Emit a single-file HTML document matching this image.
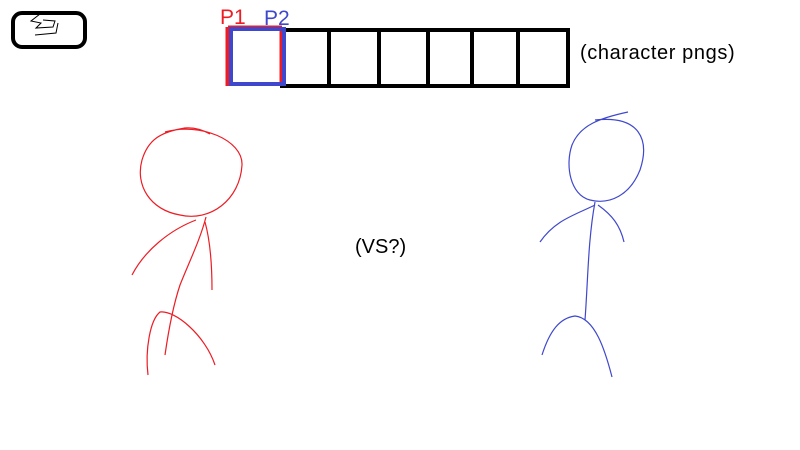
<!DOCTYPE html>
<html><head><meta charset="utf-8"><style>
html,body{margin:0;padding:0;background:#fff;width:800px;height:450px;overflow:hidden}
svg{display:block}
text{font-family:"Liberation Sans",sans-serif}
</style></head><body>
<svg width="800" height="450" viewBox="0 0 800 450">
<g>
<rect x="13" y="13" width="72" height="34" rx="9" fill="none" stroke="#000" stroke-width="4"/>
<path d="M40 14 L31 21 L41 23 L36 28 L53 27 L55 21 L43 20 M35 35 L56 33 L58 23" fill="none" stroke="#000" stroke-width="1"/>
</g>
<g>
<path d="M282 30 H568 V86 H282 Z" fill="none" stroke="#000" stroke-width="4"/>
<path d="M329 30V88 M379 30V88 M428 30V88 M472 30V88 M518 30V88" stroke="#000" stroke-width="4"/>
<path d="M228 27 V86 M282 27 V86 M228 28 H282" fill="none" stroke="#ed1c24" stroke-width="5"/>
<rect x="231" y="29" width="53" height="55" fill="none" stroke="#3f48cc" stroke-width="4"/>
</g>
<text x="220" y="24" font-size="21" fill="#ed1c24">P1</text>
<text x="264" y="25" font-size="21" fill="#3f48cc">P2</text>
<text x="580" y="59" font-size="20" letter-spacing="0.6" fill="#000">(character pngs)</text>
<text x="355" y="253" font-size="20" fill="#000">(VS?)</text>
<g fill="none" stroke="#ed1c24" stroke-width="1.2">
<path d="M165 132 C200 122 243 140 242 165 C240 200 210 222 180 215 C150 210 135 185 142 160 C148 140 160 132 185 128 C195 127 205 131 210 134"/>
<path d="M206 217 C200 240 190 260 180 285 C175 300 170 320 165 355"/>
<path d="M196 220 C170 230 145 250 132 275"/>
<path d="M205 222 C210 240 212 265 212 290"/>
<path d="M148 375 C145 350 150 320 160 312 C175 310 205 335 215 365"/>
</g>
<g fill="none" stroke="#3f48cc" stroke-width="1.2">
<path d="M595 120 C640 115 650 140 640 170 C630 195 610 205 590 200 C570 195 565 165 572 145 C580 125 600 118 628 112"/>
<path d="M595 202 C588 240 588 280 585 320"/>
<path d="M595 205 C575 215 555 220 540 242"/>
<path d="M598 205 C612 215 620 225 624 242"/>
<path d="M542 355 C550 330 560 318 575 316 C595 318 605 350 612 377"/>
</g>
</svg>
</body></html>
